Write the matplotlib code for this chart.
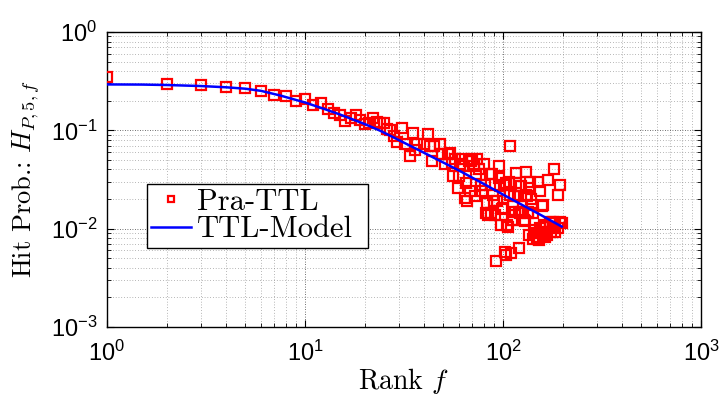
import matplotlib
matplotlib.use("Agg")
import matplotlib.pyplot as plt

plt.rcParams['font.family'] = ['Liberation Sans', 'DejaVu Sans']
plt.rcParams['mathtext.fontset'] = 'custom'
plt.rcParams['mathtext.rm'] = 'Liberation Sans'
plt.rcParams['mathtext.it'] = 'Liberation Sans:italic'

# measured hit probability per rank (Pra-TTL)
ranks = [1, 2, 3, 4, 5, 6, 7, 8, 9, 10, 11, 12, 13, 14, 15, 16, 17, 18, 19, 20,
         21, 22, 23, 24, 25, 26, 27, 28, 29, 31, 32, 34, 35, 36, 37, 40, 42, 43,
         44, 45, 48, 49, 51, 53, 54, 55, 56, 57, 59, 60, 61, 62, 63, 64, 65, 66,
         67, 68, 69, 70, 71, 72, 73, 74, 76, 77, 78, 80, 81, 82, 83, 84, 86, 87,
         88, 89, 90, 91, 92, 93, 95, 96, 97, 98, 99, 100, 101, 102, 103, 104,
         105, 106, 107, 108, 109, 110, 111, 112, 113, 114, 115, 116, 117, 119,
         120, 121, 122, 124, 125, 127, 129, 130, 131, 132, 133, 134, 135, 136,
         137, 139, 140, 141, 142, 143, 145, 148, 150, 151, 152, 153, 154, 155,
         157, 159, 160, 161, 163, 165, 166, 169, 172, 173, 174, 178, 179, 180,
         183, 184, 189, 190, 193, 194, 198]
hits = [0.345, 0.298, 0.288, 0.279, 0.268, 0.250, 0.231, 0.221, 0.197, 0.207,
        0.180, 0.188, 0.163, 0.149, 0.143, 0.125, 0.135, 0.143, 0.127, 0.117,
        0.120, 0.132, 0.122, 0.120, 0.118, 0.103, 0.100, 0.088, 0.076, 0.105,
        0.072, 0.055, 0.095, 0.063, 0.073, 0.072, 0.091, 0.069, 0.049, 0.069,
        0.072, 0.057, 0.045, 0.057, 0.059, 0.047, 0.034, 0.051, 0.026, 0.034,
        0.045, 0.051, 0.043, 0.0205, 0.029, 0.0189, 0.049, 0.024, 0.049, 0.051,
        0.043, 0.0213, 0.0356, 0.051, 0.040, 0.028, 0.024, 0.045, 0.028, 0.0144,
        0.0182, 0.0138, 0.0356, 0.0144, 0.0356, 0.022, 0.0189, 0.0138, 0.0047,
        0.0189, 0.043, 0.0328, 0.027, 0.0109, 0.016, 0.0161, 0.028, 0.0058,
        0.0054, 0.029, 0.0109, 0.0105, 0.030, 0.070, 0.022, 0.0056, 0.0123,
        0.0175, 0.0123, 0.0213, 0.0149, 0.029, 0.0364, 0.0213, 0.0063, 0.0149,
        0.0144, 0.027, 0.0149, 0.0123, 0.012, 0.0378, 0.022, 0.0213, 0.0149,
        0.0144, 0.0086, 0.026, 0.030, 0.0198, 0.0175, 0.0079, 0.0144, 0.0097,
        0.0090, 0.0083, 0.0079, 0.030, 0.0077, 0.0101, 0.024, 0.0093, 0.0172,
        0.009, 0.0175, 0.0109, 0.0083, 0.0105, 0.0086, 0.0316, 0.0118, 0.0105,
        0.0093, 0.0105, 0.0118, 0.040, 0.0093, 0.0113, 0.022, 0.0101, 0.0118,
        0.0276, 0.0113]

# TTL model curve
model_ranks = [1, 1.5, 2, 3, 4, 5, 6, 7.5, 10, 12.5, 15, 20, 24, 30, 40, 50,
               60, 80, 104, 130, 157, 198]
model_hits = [0.293, 0.292, 0.289, 0.282, 0.274, 0.265, 0.252, 0.226, 0.192,
              0.165, 0.145, 0.116, 0.099, 0.079, 0.059, 0.047, 0.039, 0.0285,
              0.0213, 0.0167, 0.0136, 0.0105]

fig = plt.figure(figsize=(7.24, 4.0), dpi=100)
ax = fig.add_axes([0.1478, 0.1825, 0.8204, 0.7375])

ax.plot(ranks, hits, 's', ms=6.5, mfc='none', mec='#ff0000', mew=1.6,
        label='Pra-TTL', zorder=3)
ax.plot(model_ranks, model_hits, '-', color='#0000ff', lw=1.8,
        label='TTL-Model', zorder=4)

ax.set_xscale('log')
ax.set_yscale('log')
ax.set_xlim(1, 1000)
ax.set_ylim(1e-3, 1)

ax.grid(True, which='major', ls=(0, (1, 2)), color='0.25', lw=0.6)
ax.grid(True, which='minor', ls=(0, (1, 3)), color='0.45', lw=0.5)
ax.tick_params(which='both', direction='in', top=True, right=True)
ax.tick_params(which='major', length=5, width=0.8, labelsize=17)
ax.tick_params(axis='x', which='major', pad=10)
ax.tick_params(axis='y', which='major', pad=7)
ax.tick_params(which='minor', length=3, width=0.6)
for s in ax.spines.values():
    s.set_linewidth(1.0)

ax.set_xlabel(r'Rank $f$', fontsize=20, family='cmr10', math_fontfamily='cm',
              labelpad=0)
ax.set_ylabel(r'Hit Prob.: $H_{P,5,f}$', fontsize=19, family='cmr10',
              math_fontfamily='cm', labelpad=6)

leg = ax.legend(loc='upper left', bbox_to_anchor=(0.067, 0.254, 0.372, 0.231),
                mode='expand', prop={'family': 'cmr10', 'size': 22},
                fancybox=False, framealpha=1, edgecolor='black',
                borderpad=0.15, labelspacing=0.0, handlelength=1.3,
                handletextpad=0.2, borderaxespad=0, markerscale=0.75)
leg.get_frame().set_linewidth(1.0)

fig.savefig('out.png', dpi=100)
